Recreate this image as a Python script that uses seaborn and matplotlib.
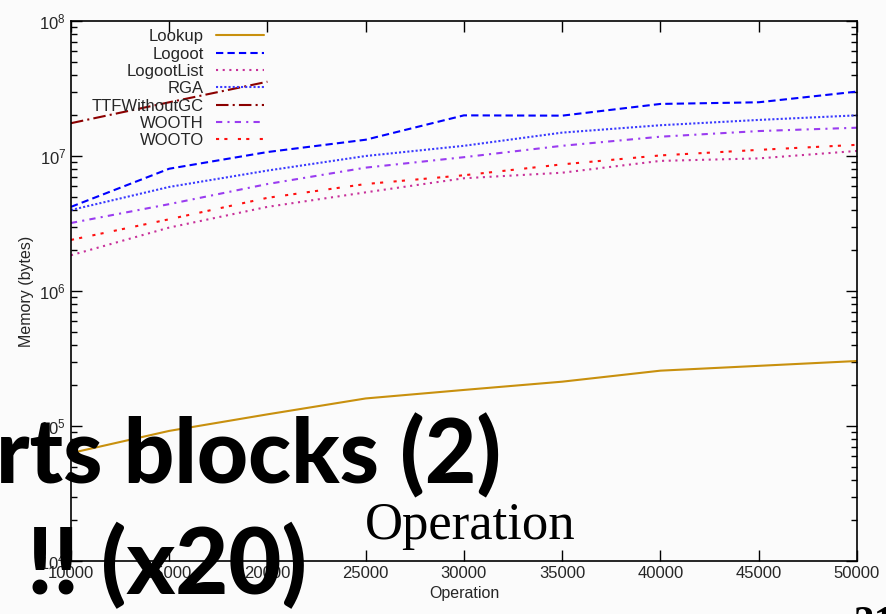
import pandas as pd
import seaborn as sns
import matplotlib.pyplot as plt
from matplotlib.ticker import LogLocator, LogFormatterSciNotation, NullFormatter

sns.set_theme(style="ticks")
plt.rcParams['font.family'] = ['Liberation Sans', 'DejaVu Sans']
plt.rcParams['mathtext.default'] = 'regular'

# 数据
operations = [10000, 15000, 20000, 25000, 30000, 35000, 40000, 45000, 50000]
lookup = [6.3e4, 9.2e4, 1.22e5, 1.6e5, 1.85e5, 2.13e5, 2.57e5, 2.79e5, 3.03e5]
logoot = [4.2e6, 8.05e6, 1.07e7, 1.32e7, 2.0e7, 1.99e7, 2.43e7, 2.5e7, 3.0e7]
logoot_list = [1.84e6, 2.95e6, 4.2e6, 5.38e6, 6.84e6, 7.52e6, 9.2e6, 9.6e6, 1.09e7]
rga = [3.98e6, 5.9e6, 7.8e6, 1.0e7, 1.19e7, 1.49e7, 1.69e7, 1.85e7, 2.0e7]
ttf_operations = [10000, 15000, 20000]
ttf_without_gc = [1.75e7, 2.5e7, 3.55e7]
wooth = [3.19e6, 4.4e6, 6.2e6, 8.2e6, 9.8e6, 1.19e7, 1.39e7, 1.53e7, 1.62e7]
wooto = [2.39e6, 3.4e6, 4.9e6, 6.2e6, 7.2e6, 8.67e6, 1.01e7, 1.11e7, 1.21e7]

series = {
    "Lookup": (operations, lookup),
    "Logoot": (operations, logoot),
    "LogootList": (operations, logoot_list),
    "RGA": (operations, rga),
    "TTFWithoutGC": (ttf_operations, ttf_without_gc),
    "WOOTH": (operations, wooth),
    "WOOTO": (operations, wooto),
}
rows = []
for name, (xs, ys) in series.items():
    for x, y in zip(xs, ys):
        rows.append({"Operation": x, "Memory": y, "algo": name})
df = pd.DataFrame(rows)

palette = {
    "Lookup": "#c8900e",
    "Logoot": "#0000ff",
    "LogootList": "#c8309a",
    "RGA": "#3a3aff",
    "TTFWithoutGC": "#8b0000",
    "WOOTH": "#9a3cf0",
    "WOOTO": "#ff1010",
}
dashes = {
    "Lookup": "",
    "Logoot": (3.5, 2),
    "LogootList": (1, 2.2),
    "RGA": (1, 1),
    "TTFWithoutGC": (6, 2, 1, 2),
    "WOOTH": (3, 2.5, 1, 2.5),
    "WOOTO": (1.5, 2.5, 1.5, 5),
}

fig = plt.figure(figsize=(8.87, 6.14), dpi=100, facecolor="#fbfbfb")
ax = fig.add_axes([0.080, 0.0863, 0.886, 0.8795])
ax.set_facecolor("#fbfbfb")

sns.lineplot(data=df, x="Operation", y="Memory", hue="algo", style="algo",
             palette=palette, dashes=dashes, linewidth=1.5, ax=ax)

ax.set_yscale("log")
ax.set_ylim(1e4, 1e8)
ax.set_xlim(10000, 50000)
ax.set_xticks(operations)
ax.yaxis.set_major_locator(LogLocator(base=10))
ax.yaxis.set_major_formatter(LogFormatterSciNotation())
ax.yaxis.set_minor_locator(LogLocator(base=10, subs=range(2, 10)))
ax.yaxis.set_minor_formatter(NullFormatter())
ax.tick_params(which="both", direction="in", top=True, right=True, labelsize=12,
               color="black")
ax.tick_params(which="major", length=8, width=1)
ax.tick_params(which="minor", length=4, width=1)
for s in ax.spines.values():
    s.set_color("black")
    s.set_linewidth(1.2)
ax.set_xlabel("Operation", fontsize=11.5)
ax.set_ylabel("Memory (bytes)", fontsize=11.5)

leg = ax.legend(loc="upper left", bbox_to_anchor=(0.016, 1.0), frameon=False,
                markerfirst=False, fontsize=12, handlelength=2.9,
                labelspacing=0.14, handletextpad=0.7, borderaxespad=0.1)
for line in leg.get_lines():
    line.set_linewidth(1.5)

# 幻灯片叠加文字
fig.text(-0.004, 0.212, "rts blocks (2)", fontsize=64, fontweight="black",
         family=["Lato", "Liberation Sans"], color="black")
fig.text(0.03, 0.033, "!! (x20)", fontsize=66, fontweight="black",
         family=["Lato", "Liberation Sans"], color="black")
fig.text(0.411, 0.122, "Operation", fontsize=38,
         family=["Liberation Serif", "DejaVu Serif"], color="black")
fig.text(0.962, -0.035, "31", fontsize=30, fontweight="bold",
         family=["Liberation Serif", "DejaVu Serif"], color="black")

fig.savefig("out.png", dpi=100, facecolor=fig.get_facecolor())
